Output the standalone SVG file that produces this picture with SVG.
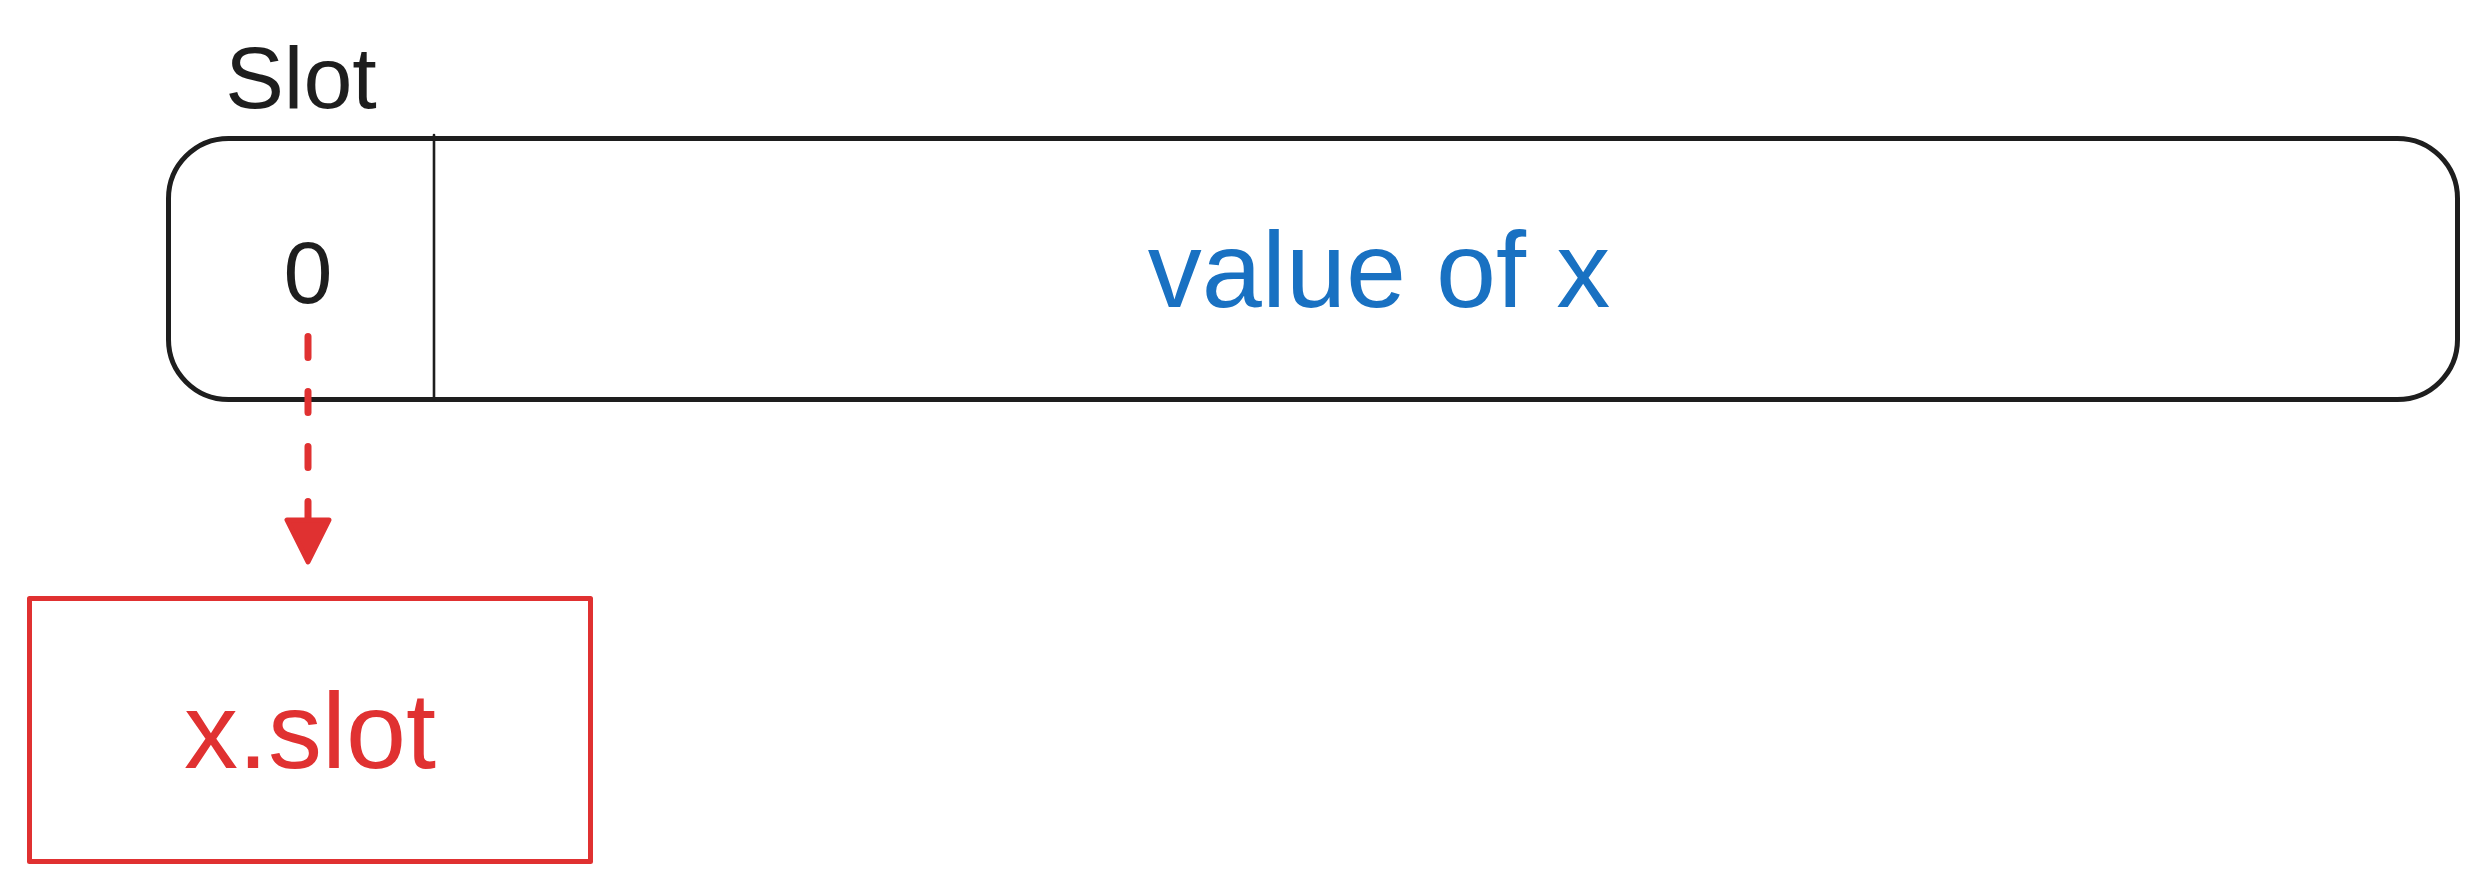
<svg xmlns="http://www.w3.org/2000/svg" width="2487" height="891" viewBox="0 0 2487 891">
<style>
.dark{fill:none;stroke:#1e1e1e;stroke-linecap:round;stroke-linejoin:round}
.red{fill:none;stroke:#e03131;stroke-linecap:round;stroke-linejoin:round}
text{font-family:"Liberation Sans",Arial,Helvetica,sans-serif;text-anchor:middle}
</style>
<rect width="2487" height="891" fill="#ffffff"/>
<g id="slot-label">
<text x="301" y="108" font-size="88" fill="#1e1e1e">Slot</text>
</g>
<g id="record">
<rect class="dark" x="168.5" y="138.5" width="2289" height="261" rx="60" ry="60" stroke-width="5"/>
<line class="dark" x1="434" y1="135" x2="434" y2="399" stroke-width="2.6"/>
<text x="308" y="303" font-size="88" fill="#1e1e1e">0</text>
<text x="1379" y="307" font-size="108" fill="#1971c2">value of x</text>
</g>
<g id="x-slot">
<rect class="red" x="29.5" y="598.5" width="561" height="263" stroke-width="5"/>
<text x="310" y="768" font-size="108" fill="#e03131">x.slot</text>
</g>
<g id="connectors">
<path class="red" d="M308 336.5 V522" stroke-width="7" stroke-dasharray="21 34"/>
<path d="M287 520 L329 520 L308 562 Z" fill="#e03131" stroke="#e03131" stroke-width="5" stroke-linejoin="round"/>
</g>
</svg>
